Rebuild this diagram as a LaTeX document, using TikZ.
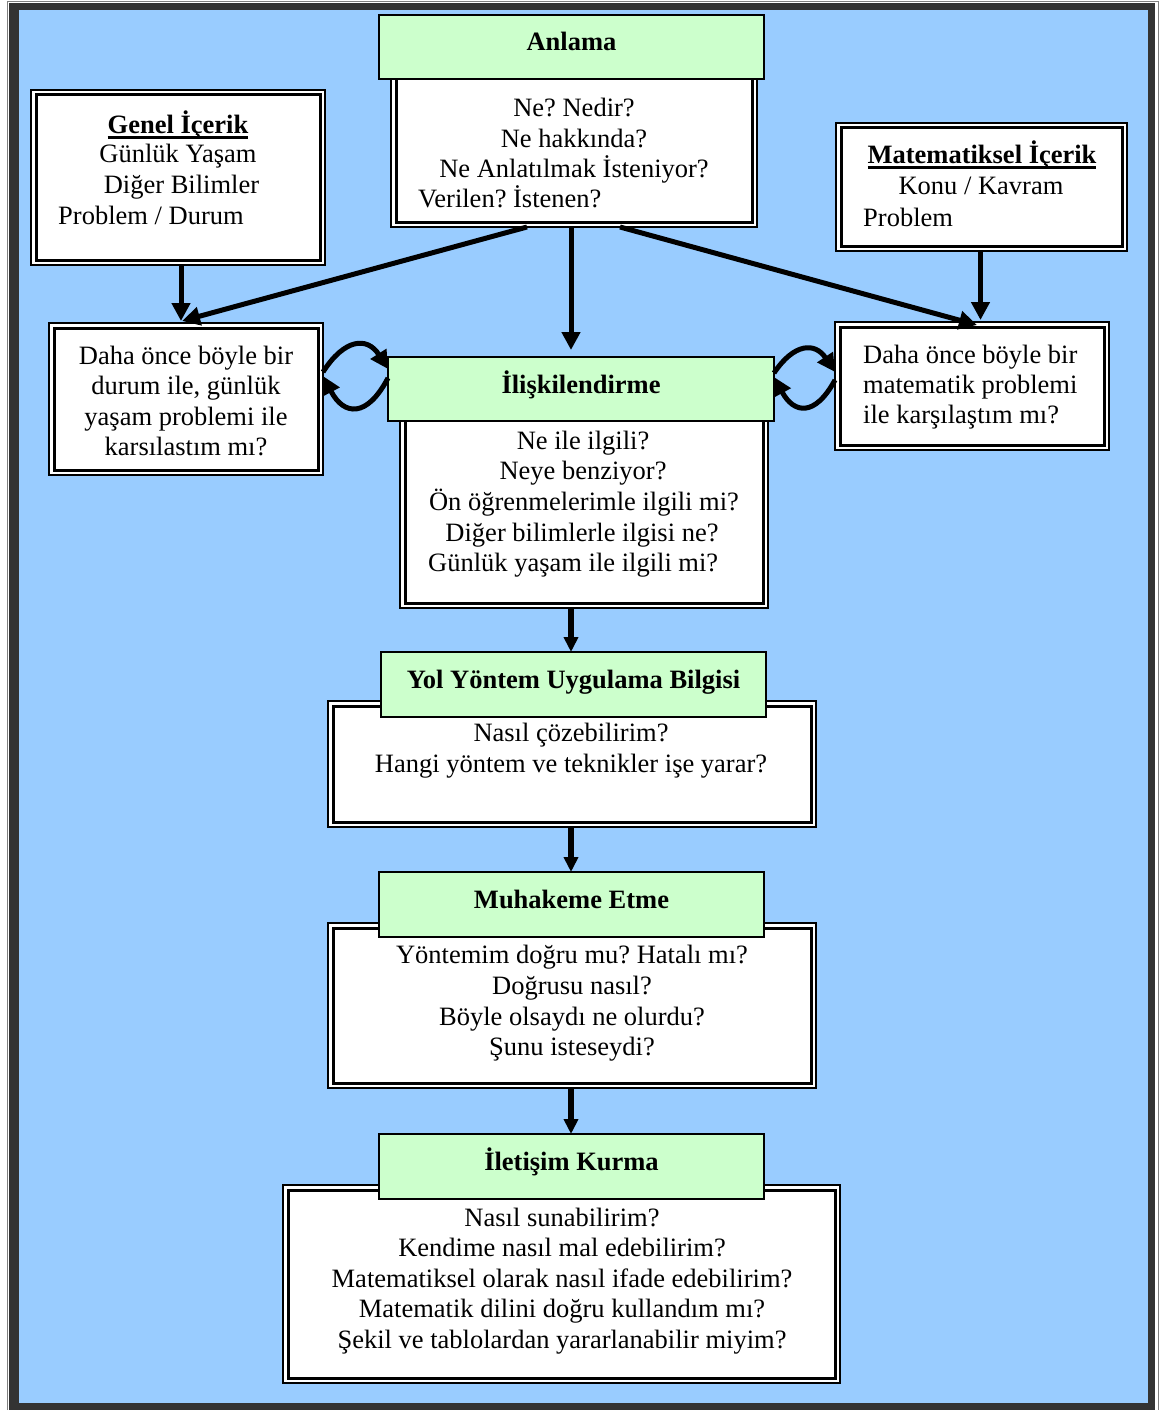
\documentclass[tikz,border=0pt]{standalone}
\usepackage{fontspec}
\setmainfont{Liberation Serif}
\usetikzlibrary{arrows.meta}
\frenchspacing

\definecolor{bgblue}{HTML}{99CCFF}
\definecolor{hgreen}{HTML}{CCFFCC}
\definecolor{framedark}{HTML}{333333}

% bold title with a heavy underline
\newcommand\ulbox[1]{\setbox0\hbox{#1}\rlap{\rule[-6pt]{\wd0}{3pt}}\box0}

% white box with a thin outer and a thicker inner border
\newcommand\dblbox[5]{%
  \node[frm, minimum width={#4-#2}, minimum height={#5-#3}] (#1) at ({(#2+#4)/2},{(#3+#5)/2}) {};
  \draw[line width=3pt] ([shift={(5,5)}]#1.north west) rectangle ([shift={(-5,-5)}]#1.south east);}

% green title bar
\newcommand\hdrbox[6]{%
  \node[hdr, minimum width={#4-#2}, minimum height={#5-#3}] (#1) at ({(#2+#4)/2},{(#3+#5)/2}) {#6};}

\tikzset{
  frm/.style={draw=black, line width=2pt, fill=white, inner sep=0pt, outer sep=0pt},
  hdr/.style={draw=black, line width=2pt, fill=hgreen, inner sep=0pt, outer sep=0pt,
    font=\bfseries\fontsize{26.5}{31}\selectfont, text height=18pt, text depth=10pt},
  txt/.style={inner sep=0pt, anchor=base, font=\fontsize{26.5}{31}\selectfont},
  txtl/.style={txt, anchor=base west},
  arr/.style={line width=5pt, -{Triangle[length=18pt,width=18pt]}},
  arrs/.style={line width=5.5pt, -{Triangle[length=15pt,width=14pt]}},
  arcarr/.style={line width=5pt, -{Triangle[length=18pt,width=18pt]}},
}

\begin{document}
\begin{tikzpicture}[x=1pt,y=-1pt]
\useasboundingbox (0,0) rectangle (1160,1410);

% page frame
\fill[white] (0,0) rectangle (1160,1410);
\draw[gray, line width=1pt] (7,2) rectangle (1158,1416);
\fill[framedark] (9,3) rectangle (1155,1416);
\fill[bgblue] (19,10) rectangle (1148,1403);

% content boxes
\dblbox{anlb}{391}{70}{757}{227}
\dblbox{genel}{31}{90}{325}{265}
\dblbox{mat}{836}{123}{1127}{251}
\dblbox{ldaha}{49}{323}{323}{475}
\dblbox{rdaha}{835}{322}{1109}{450}
\dblbox{ilb}{400}{410}{768}{608}
\dblbox{yolb}{328}{701}{816}{827}
\dblbox{muhb}{328}{923}{816}{1088}
\dblbox{iletb}{283}{1185}{840}{1383}

% title bars
\hdrbox{anlh}{379}{15}{764}{79}{Anlama}
\hdrbox{ilh}{388}{357}{774}{421}{İlişkilendirme}
\hdrbox{yolh}{381}{652}{766}{717}{Yol Yöntem Uygulama Bilgisi}
\hdrbox{muhh}{379}{872}{764}{937}{Muhakeme Etme}
\hdrbox{ileth}{379}{1134}{764}{1199}{İletişim Kurma}

% Anlama
\node[txt] (a1) at (574,117) {Ne? Nedir?};
\node[txt] (a2) at (574,147) {Ne hakkında?};
\node[txt] (a3) at (574,177) {Ne Anlatılmak İsteniyor?};
\node[txtl] (a4) at (418,207) {Verilen? İstenen?};

% Genel İçerik
\node[txt] (g1) at (178,133) {\ulbox{\bfseries Genel İçerik}};
\node[txt] (g2) at (178,162) {Günlük Yaşam};
\node[txt] (g3) at (181.5,193) {Diğer Bilimler};
\node[txtl] (g4) at (58,224) {Problem / Durum};

% Matematiksel İçerik
\node[txt] (m1) at (982,163) {\ulbox{\bfseries Matematiksel İçerik}};
\node[txt] (m2) at (981,194) {Konu / Kavram};
\node[txtl] (m3) at (863,226) {Problem};

% left question box
\node[txt] (l1) at (186,364) {Daha önce böyle bir};
\node[txt] (l2) at (186,394) {durum ile, günlük};
\node[txt] (l3) at (186,425) {yaşam problemi ile};
\node[txt] (l4) at (186,455) {karsılastım mı?};

% right question box
\node[txtl] (r1) at (863,363) {Daha önce böyle bir};
\node[txtl] (r2) at (863,393) {matematik problemi};
\node[txtl] (r3) at (863,423) {ile karşılaştım mı?};

% İlişkilendirme
\node[txt] (i1) at (583,449) {Ne ile ilgili?};
\node[txt] (i2) at (583,479) {Neye benziyor?};
\node[txt] (i3) at (584,510) {Ön öğrenmelerimle ilgili mi?};
\node[txt] (i4) at (582,541) {Diğer bilimlerle ilgisi ne?};
\node[txtl] (i5) at (428,571) {Günlük yaşam ile ilgili mi?};

% Yol Yöntem Uygulama Bilgisi
\node[txt] (y1) at (571,741) {Nasıl çözebilirim?};
\node[txt] (y2) at (571,772) {Hangi yöntem ve teknikler işe yarar?};

% Muhakeme Etme
\node[txt] (h1) at (572,963) {Yöntemim doğru mu? Hatalı mı?};
\node[txt] (h2) at (572,994) {Doğrusu nasıl?};
\node[txt] (h3) at (572,1025) {Böyle olsaydı ne olurdu?};
\node[txt] (h4) at (572,1055) {Şunu isteseydi?};

% İletişim Kurma
\node[txt] (k1) at (562,1226) {Nasıl sunabilirim?};
\node[txt] (k2) at (562,1256) {Kendime nasıl mal edebilirim?};
\node[txt] (k3) at (562,1287) {Matematiksel olarak nasıl ifade edebilirim?};
\node[txt] (k4) at (562,1317) {Matematik dilini doğru kullandım mı?};
\node[txt] (k5) at (562,1348) {Şekil ve tablolardan yararlanabilir miyim?};

% connectors from Anlama
\draw[arr] ([xshift=-3pt]anlb.south) -- ([xshift=-3pt, yshift=7pt]anlb.south |- ilh.north);
\draw[arr] ([xshift=-47pt]anlb.south) -- ([xshift=-4pt,yshift=2pt]ldaha.north);
\draw[arr] ([xshift=46pt]anlb.south) -- ([xshift=5pt,yshift=-3pt]rdaha.north);

% connectors from the content boxes
\draw[arr] ([xshift=3pt]genel.south) -- ([xshift=3pt,yshift=2pt]genel.south |- ldaha.north);
\draw[arr] ([xshift=-1pt]mat.south) -- ([xshift=-1pt,yshift=2pt]mat.south |- rdaha.north);

% two-way links beside İlişkilendirme
\draw[arcarr] ([yshift=27pt]ldaha.east) .. controls +(21,-33) and +(-21,-33) .. ([yshift=20pt]ilh.west);
\draw[arcarr] ([yshift=11pt]ilh.west) .. controls +(-21,40) and +(21,40) .. ([yshift=23pt]ldaha.east);
\draw[arcarr] ([yshift=16pt]ilh.east) .. controls +(20,-30) and +(-20,-30) .. ([yshift=14pt]rdaha.west);
\draw[arcarr] ([yshift=6pt]rdaha.west) .. controls +(-20,37) and +(20,37) .. ([yshift=12pt]ilh.east);

% main chain
\draw[arrs] ([xshift=-13pt]ilb.south) -- ([xshift=-13pt]ilb.south |- yolh.north);
\draw[arrs] ([xshift=-1pt]yolb.south) -- ([xshift=-1pt]yolb.south |- muhh.north);
\draw[arrs] ([xshift=-1pt]muhb.south) -- ([xshift=-1pt]muhb.south |- ileth.north);
\end{tikzpicture}
\end{document}
